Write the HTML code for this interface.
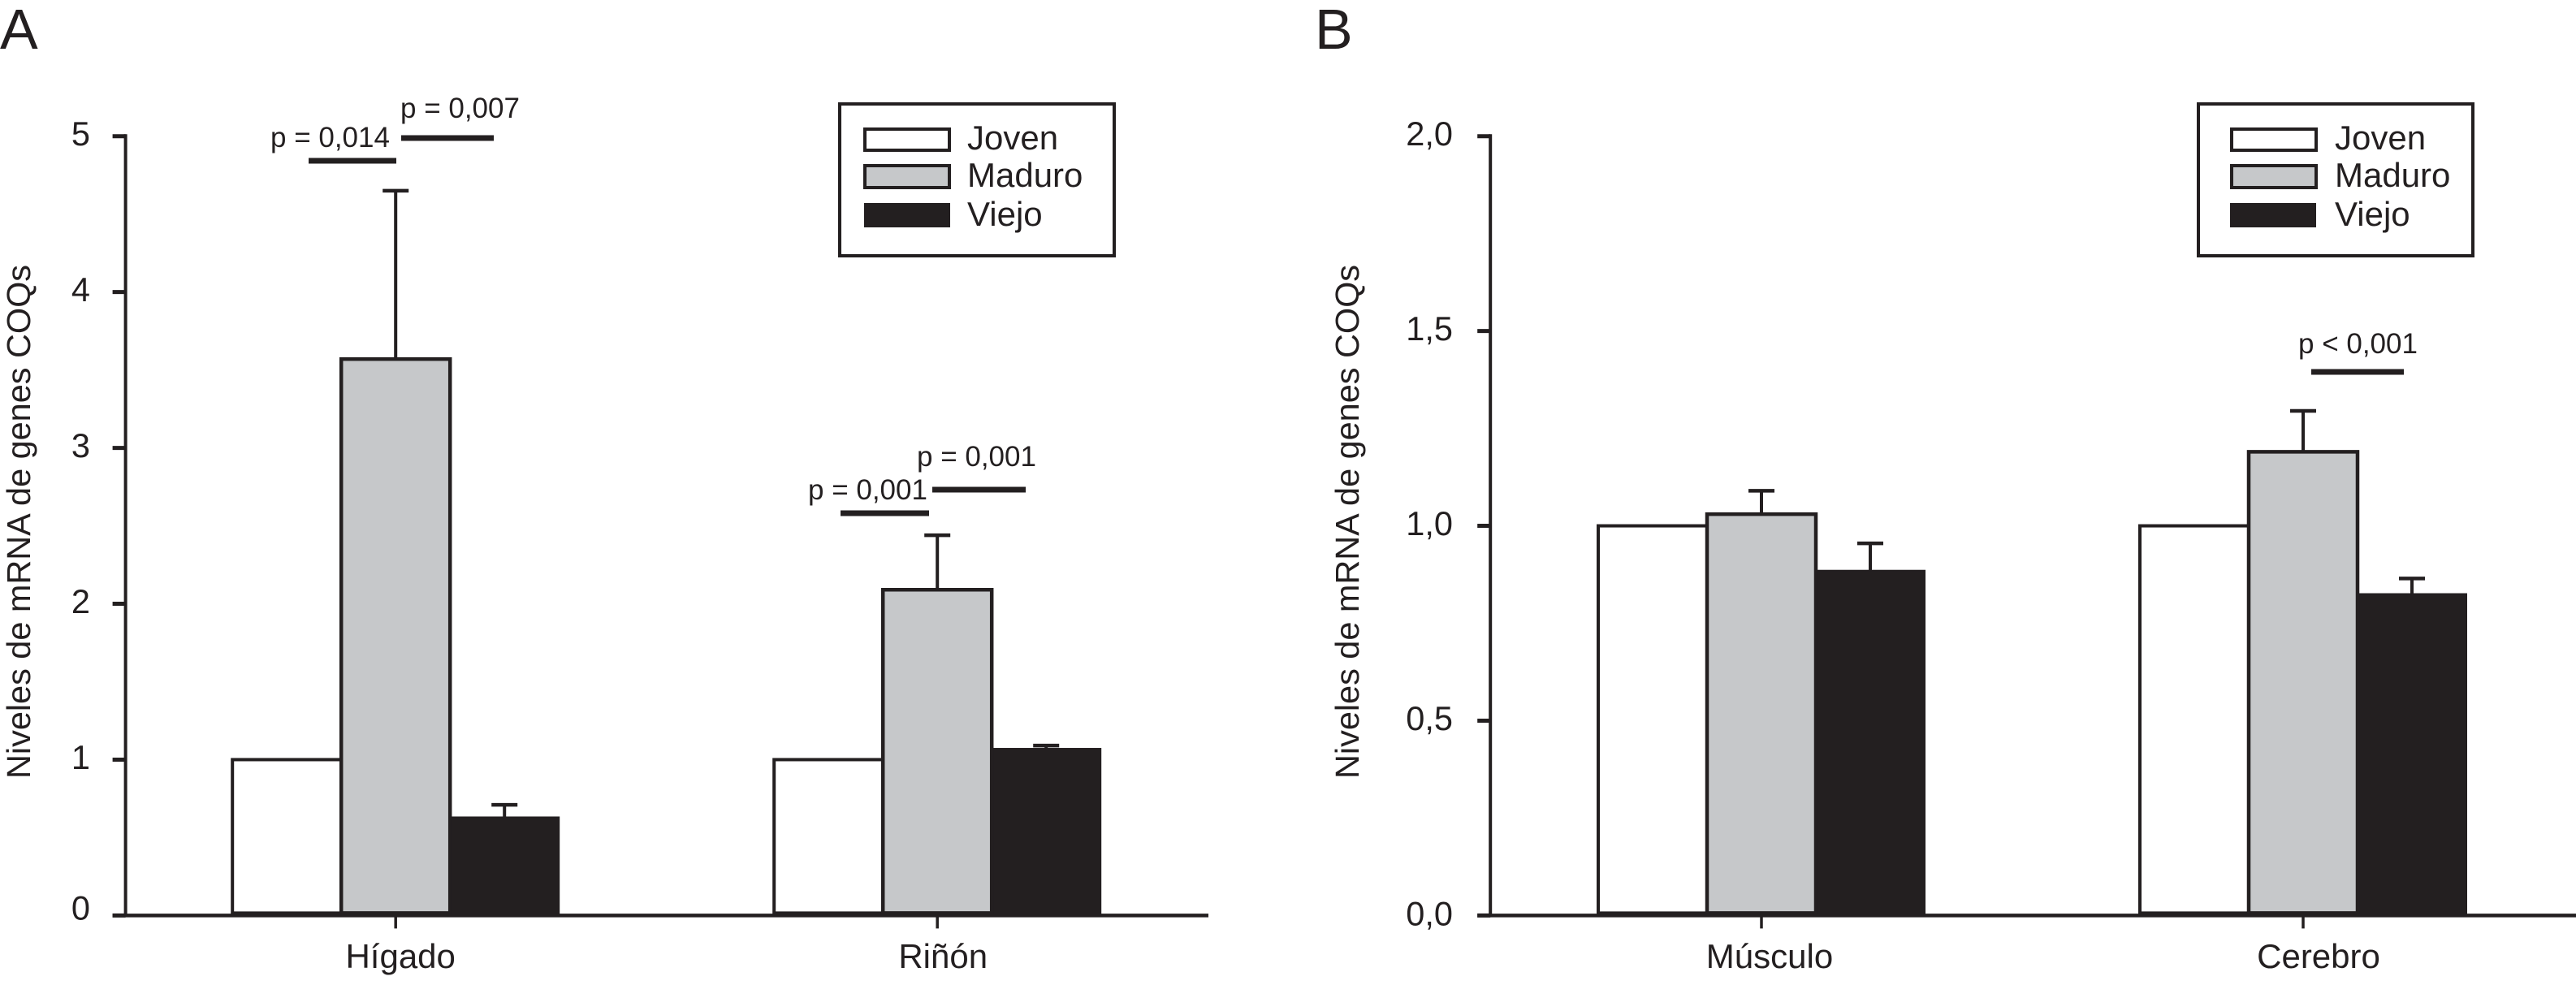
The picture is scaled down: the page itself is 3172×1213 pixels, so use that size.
<!DOCTYPE html>
<html lang="es">
<head>
<meta charset="utf-8">
<title>Niveles de mRNA de genes COQs</title>
<style>
html,body{margin:0;padding:0;background:#fff;}
svg{display:block;}
text{font-family:"Liberation Sans",sans-serif;fill:#231f20;}
.sig{font-size:35px;}
.leg{font-size:42px;}
.tick{font-size:41.5px;}
.cat{font-size:42px;}
.ttl{font-size:41px;}
.pan{font-size:70px;}
</style>
</head>
<body>
<svg id="figure" xmlns="http://www.w3.org/2000/svg" width="3172" height="1213" viewBox="0 0 3172 1213">
  <rect x="0" y="0" width="3172" height="1213" fill="#ffffff"/>
  <g id="panelA">
    <text class="pan" x="0" y="60">A</text>
    <text class="ttl" transform="translate(37,959) rotate(-90)" textLength="633" lengthAdjust="spacingAndGlyphs">Niveles de mRNA de genes COQs</text>
  </g>
  <g id="panelB">
    <text class="pan" x="1619" y="60">B</text>
    <text class="ttl" transform="translate(1673,959) rotate(-90)" textLength="633" lengthAdjust="spacingAndGlyphs">Niveles de mRNA de genes COQs</text>
  </g>
  <g stroke="#231f20" stroke-width="7">
    <line x1="380" x2="488" y1="198" y2="198"/>
    <line x1="494" x2="608" y1="170" y2="170"/>
    <line x1="1035" x2="1144" y1="632" y2="632"/>
    <line x1="1148" x2="1263" y1="603" y2="603"/>
    <line x1="2846" x2="2960" y1="458" y2="458"/>
  </g>
  <g>
    <text class="sig" x="333" y="181">p = 0,014</text>
    <text class="sig" x="493" y="145">p = 0,007</text>
    <text class="sig" x="995" y="615">p = 0,001</text>
    <text class="sig" x="1129" y="574">p = 0,001</text>
    <text class="sig" x="2830" y="435">p &lt; 0,001</text>
  </g>
  <g>
    <rect x="1034" y="128" width="338" height="187" fill="#fff" stroke="#231f20" stroke-width="4"/>
    <rect x="1065" y="159" width="104" height="26" fill="#fff" stroke="#231f20" stroke-width="4"/>
    <rect x="1065" y="204" width="104" height="27" fill="#c6c8ca" stroke="#231f20" stroke-width="4"/>
    <rect x="1064" y="250" width="106" height="30" fill="#231f20"/>
    <text class="leg" x="1191" y="184">Joven</text>
    <text class="leg" x="1191" y="230">Maduro</text>
    <text class="leg" x="1191" y="278">Viejo</text>
  </g>
  <g>
    <rect x="2707" y="128" width="338" height="187" fill="#fff" stroke="#231f20" stroke-width="4"/>
    <rect x="2748" y="159" width="104" height="26" fill="#fff" stroke="#231f20" stroke-width="4"/>
    <rect x="2748" y="204" width="104" height="27" fill="#c6c8ca" stroke="#231f20" stroke-width="4"/>
    <rect x="2746" y="250" width="106" height="30" fill="#231f20"/>
    <text class="leg" x="2875" y="184">Joven</text>
    <text class="leg" x="2875" y="230">Maduro</text>
    <text class="leg" x="2875" y="278">Viejo</text>
  </g>
</svg>
<script>
// Panel A data
var categoriesA = ["Hígado", "Riñón"];
var jovenA = [1, 1];
var maduroA = [3.57, 2.09];
var viejoA = [0.63, 1.07];
var maduroUpperA = [4.65, 2.44];
var viejoUpperA = [0.71, 1.09];
var tickValuesA = [0, 1, 2, 3, 4, 5];
var tickLabelsA = ["0", "1", "2", "3", "4", "5"];

// Panel B data
var categoriesB = ["Músculo", "Cerebro"];
var jovenB = [1, 1];
var maduroB = [1.03, 1.19];
var viejoB = [0.885, 0.825];
var maduroUpperB = [1.09, 1.295];
var viejoUpperB = [0.955, 0.865];
var tickValuesB = [0, 0.5, 1, 1.5, 2];
var tickLabelsB = ["0,0", "0,5", "1,0", "1,5", "2,0"];

var NS = "http://www.w3.org/2000/svg";
var INK = "#231f20";
var GREY = "#c6c8ca";
var Y0 = 1127.4, YTOP = 167.7, BAND = 667, BARW = 134, CAP = 32;

function make(parent, tag, geometry) {
  var el = document.createElementNS(NS, tag);
  for (var k in geometry) { el.setAttribute(k, geometry[k]); }
  parent.appendChild(el);
  return el;
}

function drawPanel(p) {
  var root = document.getElementById(p.rootId);
  var yMax = p.tickValues[p.tickValues.length - 1];
  var y = function (v) { return Y0 - (v / yMax) * (Y0 - YTOP); };
  var xc = function (i) { return p.firstCenter + i * BAND; };

  // bars: white first, black next, grey on top so its outline stays visible
  p.categories.forEach(function (cat, i) {
    var left = xc(i) - 1.5 * BARW;
    var base = Y0 - 3;

    var white = make(root, "rect", {x: left, y: y(p.joven[i]), width: BARW, height: base - y(p.joven[i]), fill: "#fff", stroke: INK, "stroke-width": 4});
    
    

    var black = make(root, "rect", {x: left + 2 * BARW, y: y(p.viejo[i]), width: BARW, height: Y0 - y(p.viejo[i]), fill: INK, stroke: INK, "stroke-width": 2});
    
    

    var stemV = make(root, "line", {x1: left + 2.5 * BARW, x2: left + 2.5 * BARW, y1: y(p.viejo[i]), y2: y(p.viejoUpper[i]), stroke: INK, "stroke-width": 4});
    
    

    var capV = make(root, "line", {x1: left + 2.5 * BARW - CAP / 2, x2: left + 2.5 * BARW + CAP / 2, y1: y(p.viejoUpper[i]), y2: y(p.viejoUpper[i]), stroke: INK, "stroke-width": 4.5});
    
    

    var stemM = make(root, "line", {x1: xc(i), x2: xc(i), y1: y(p.maduro[i]), y2: y(p.maduroUpper[i]), stroke: INK, "stroke-width": 4});
    
    

    var capM = make(root, "line", {x1: xc(i) - CAP / 2, x2: xc(i) + CAP / 2, y1: y(p.maduroUpper[i]), y2: y(p.maduroUpper[i]), stroke: INK, "stroke-width": 4.5});
    
    

    var grey = make(root, "rect", {x: left + BARW, y: y(p.maduro[i]), width: BARW, height: base - y(p.maduro[i]), fill: GREY, stroke: INK, "stroke-width": 4.5});
    
    

    var xTick = make(root, "line", {x1: xc(i), x2: xc(i), y1: Y0, y2: Y0 + 16, stroke: INK, "stroke-width": 3.5});
    
    

    var xLabel = make(root, "text", {"class": "cat", x: xc(i) + p.catShift[i], y: 1192, "text-anchor": "middle"});
    xLabel.textContent = cat;
    
    
  });

  // y axis with ticks
  var yAxis = make(root, "line", {x1: p.axisX, x2: p.axisX, y1: YTOP - 2.5, y2: Y0 + 2, stroke: INK, "stroke-width": 4});
  
  

  p.tickValues.forEach(function (v, i) {
    var t = make(root, "line", {x1: p.axisX - 16, x2: p.axisX, y1: y(v), y2: y(v), stroke: INK, "stroke-width": 5});
    
    

    var dy = (v === 0) ? p.zeroLabelDy : 11.5;
    var lab = make(root, "text", {"class": "tick", x: p.labelX, y: y(v) + dy, "text-anchor": "end"});
    lab.textContent = p.tickLabels[i];
    
    
  });

  // x axis
  var xAxis = make(root, "line", {x1: p.axisX - 16, x2: p.axisEnd, y1: Y0, y2: Y0, stroke: INK, "stroke-width": 4.5});
  
  
}

drawPanel({
  rootId: "panelA", categories: categoriesA, joven: jovenA, maduro: maduroA, viejo: viejoA,
  maduroUpper: maduroUpperA, viejoUpper: viejoUpperA, tickValues: tickValuesA, tickLabels: tickLabelsA,
  firstCenter: 487.2, axisX: 154.6, axisEnd: 1488, labelX: 111, zeroLabelDy: 5, catShift: [6, 7]
});
drawPanel({
  rootId: "panelB", categories: categoriesB, joven: jovenB, maduro: maduroB, viejo: viejoB,
  maduroUpper: maduroUpperB, viejoUpper: viejoUpperB, tickValues: tickValuesB, tickLabels: tickLabelsB,
  firstCenter: 2169, axisX: 1835.2, axisEnd: 3172, labelX: 1789, zeroLabelDy: 12, catShift: [10, 19]
});
</script>
</body>
</html>
